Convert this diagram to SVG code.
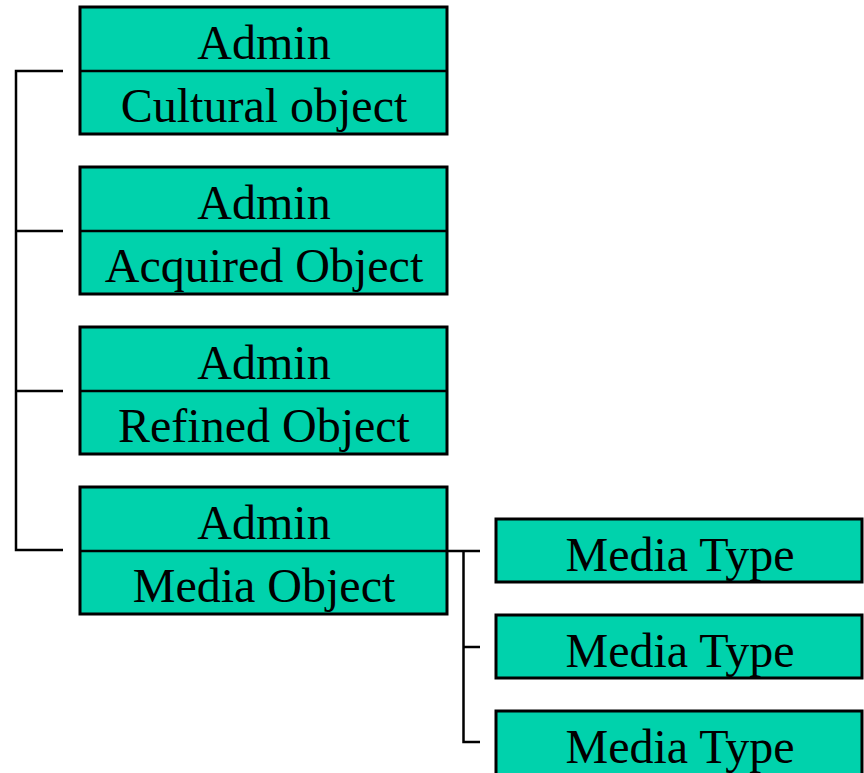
<svg xmlns="http://www.w3.org/2000/svg" width="864" height="773" viewBox="0 0 864 773">
<style>
.box{fill:#00D2AC;stroke:#000;stroke-width:3}
.ln{fill:none;stroke:#000;stroke-width:2.5}
text{font-family:"Liberation Serif","Times New Roman",serif;font-size:48px;fill:#000;text-anchor:middle}
</style>
<rect width="864" height="773" fill="#fff"/>
<g id="connectors">
<path class="ln" d="M63,71 H16 V550 H63 M16,231 H63 M16,391 H63"/>
<path class="ln" d="M447,551 H480 M463.5,551 V742 H480 M463.5,647 H480"/>
</g>
<g id="n1"><rect class="box" x="80" y="7" width="367" height="127"/><line class="ln" x1="80" y1="71" x2="447" y2="71"/><text x="264" y="59">Admin</text><text x="264" y="122">Cultural object</text></g>
<g id="n2"><rect class="box" x="80" y="167" width="367" height="127"/><line class="ln" x1="80" y1="231" x2="447" y2="231"/><text x="264" y="219">Admin</text><text x="264" y="282">Acquired Object</text></g>
<g id="n3"><rect class="box" x="80" y="327" width="367" height="127"/><line class="ln" x1="80" y1="391" x2="447" y2="391"/><text x="264" y="379">Admin</text><text x="264" y="442">Refined Object</text></g>
<g id="n4"><rect class="box" x="80" y="487" width="367" height="127"/><line class="ln" x1="80" y1="551" x2="447" y2="551"/><text x="264" y="539">Admin</text><text x="264" y="602">Media Object</text></g>
<g id="m1"><rect class="box" x="496" y="519" width="366" height="63"/><text x="680" y="571">Media Type</text></g>
<g id="m2"><rect class="box" x="496" y="615" width="366" height="63"/><text x="680" y="667">Media Type</text></g>
<g id="m3"><rect class="box" x="496" y="711" width="366" height="70"/><text x="680" y="763">Media Type</text></g>
</svg>
